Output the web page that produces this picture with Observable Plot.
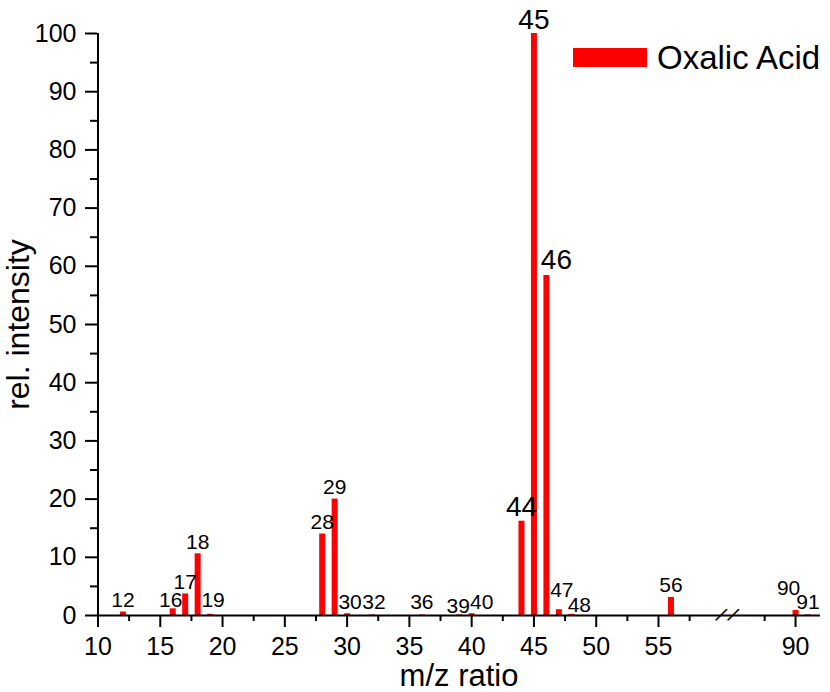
<!DOCTYPE html>
<html>
<head>
<meta charset="utf-8">
<script src="https://cdn.jsdelivr.net/npm/d3@7"></script>
<script src="https://cdn.jsdelivr.net/npm/@observablehq/plot@0.6"></script>
<style>
  body { margin: 0; background: #fff; }
  #wrap { position: relative; width: 830px; height: 692px; font-family: "Liberation Sans", Arial, Helvetica, sans-serif; }
  #swatch { position: absolute; left: 573px; top: 48px; width: 74px; height: 19px; background: #ff0000; }
  #legendText { position: absolute; left: 657px; top: 41px; font-size: 33px; line-height: 33px; color: #000; white-space: nowrap; }
</style>
</head>
<body>
<div id="wrap"></div>
<script>
// ---- data ----
const mz = [12, 16, 17, 18, 19, 28, 29, 30, 32, 36, 39, 40, 44, 45, 46, 47, 48, 56, 90, 91];
const intensity = [0.6, 1.15, 3.7, 10.6, 0.2, 14.0, 20.0, 0.3, 0.1, 0.1, 0.1, 0.3, 16.2, 100, 58.4, 1.0, 0.2, 3.1, 0.86, 0.1];
const seriesName = "Oxalic Acid";
const majorPeaks = [44, 45, 46];
const yTicks = [0, 10, 20, 30, 40, 50, 60, 70, 80, 90, 100];
const yMinorTicks = [5, 15, 25, 35, 45, 55, 65, 75, 85, 95];
const xTicks = [10, 15, 20, 25, 30, 35, 40, 45, 50, 55, 90];
const xMinorTicks = [12.5, 17.5, 22.5, 27.5, 32.5, 37.5, 42.5, 47.5, 52.5, 57.5, 87.5];
const xTitle = "m/z ratio";
const yTitle = "rel. intensity";
const breakLow = 60.5, breakHigh = 84.45; // broken-axis gap

const data = mz.map((m, i) => ({mz: m, value: intensity[i]}));

// label nudges (pixels) to avoid overlaps, as in the original
const nudge = {16: [-2, 3], 19: [3, -2], 30: [3, 0], 32: [2, -1], 36: [0, -1], 39: [-1, 3], 40: [10, 0],
               46: [10, -2], 47: [3, -8], 48: [8, 3], 90: [-7, -10], 91: [0, -1]};

const red = "#ff0000";
const font = "'Liberation Sans', Arial, Helvetica, sans-serif";

const labelMarks = data.map(d => {
  const [dx, dy] = nudge[d.mz] || [0, 0];
  const big = majorPeaks.includes(d.mz);
  return Plot.text([d], {
    x: "mz", y: "value", text: dd => String(dd.mz),
    lineAnchor: "bottom", textAnchor: "middle",
    dx: dx, dy: -5 + dy, fontSize: big ? 28 : 21, fill: "#000"
  });
});

const chart = Plot.plot({
  width: 830,
  height: 692,
  marginLeft: 97,
  marginRight: 10,
  marginTop: 33,
  marginBottom: 77,
  style: {fontFamily: font, background: "#fff", color: "#000", overflow: "visible"},
  x: {type: "linear", domain: [10, breakLow, breakHigh, 92.1], range: [97.5, 726.5, 726.5, 821]},
  y: {domain: [0, 100], range: [615, 33]},
  marks: [
    Plot.ruleX(data, {x: "mz", y: "value", stroke: red, strokeWidth: 6}),
    Plot.ruleY([0], {stroke: "#000", strokeWidth: 2}),
    Plot.ruleX([10], {stroke: "#000", strokeWidth: 2}),
    Plot.axisY(yTicks, {anchor: "left", tickSize: 12, tickPadding: 9, fontSize: 25, strokeWidth: 2, label: null}),
    Plot.axisY(yMinorTicks, {anchor: "left", tickSize: 7, tickFormat: () => "", strokeWidth: 2, label: null}),
    Plot.axisX(xTicks, {anchor: "bottom", tickSize: 12, tickPadding: 10, fontSize: 25, strokeWidth: 2, label: null}),
    Plot.axisX(xMinorTicks, {anchor: "bottom", tickSize: 6, tickFormat: () => "", strokeWidth: 2, label: null}),
    // axis break marks
    Plot.text([breakLow], {x: d => d, y: 0, text: () => "/", rotate: 30, dx: -6, fontSize: 21, fill: "#000"}),
    Plot.text([breakLow], {x: d => d, y: 0, text: () => "/", rotate: 30, dx: 6, fontSize: 21, fill: "#000"}),
    // axis titles
    Plot.text([xTitle], {frameAnchor: "bottom", text: d => d, textAnchor: "middle", lineAnchor: "bottom", dy: 70, fontSize: 31, fill: "#000"}),
    Plot.text([yTitle], {frameAnchor: "left", text: d => d, rotate: -90, textAnchor: "middle", lineAnchor: "bottom", dx: -69, fontSize: 32, fill: "#000"}),
    ...labelMarks
  ]
});

const wrap = document.getElementById("wrap");
wrap.appendChild(chart);
const sw = document.createElement("div"); sw.id = "swatch"; wrap.appendChild(sw);
const lt = document.createElement("div"); lt.id = "legendText"; lt.textContent = seriesName; wrap.appendChild(lt);
</script>
</body>
</html>
